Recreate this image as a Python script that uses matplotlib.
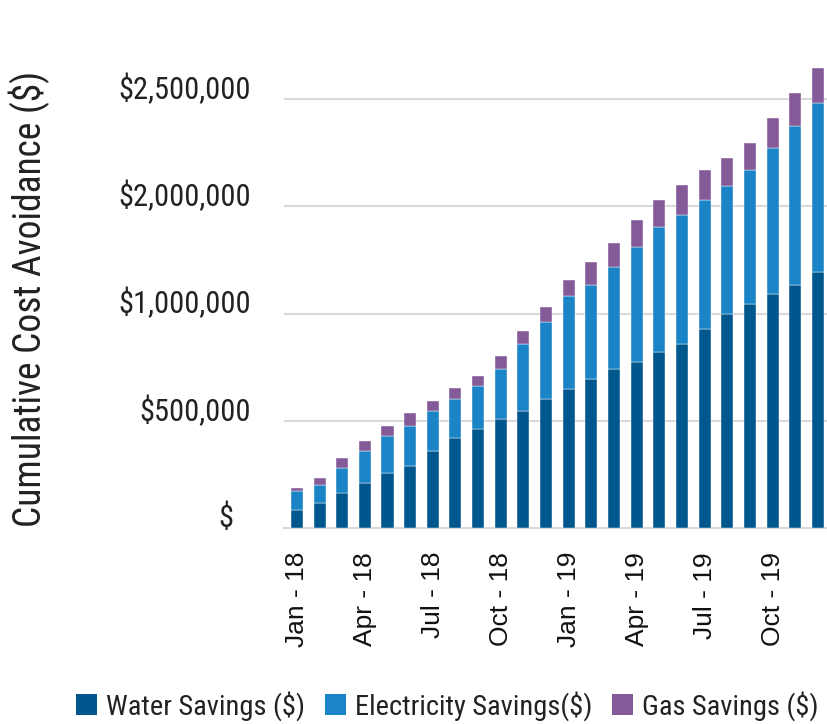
import numpy as np
import matplotlib
matplotlib.use("Agg")
import matplotlib.pyplot as plt
from matplotlib import font_manager
from matplotlib.transforms import ScaledTranslation
from matplotlib.patches import Patch

months = ["Jan - 18", "Feb - 18", "Mar - 18", "Apr - 18", "May - 18", "Jun - 18",
          "Jul - 18", "Aug - 18", "Sep - 18", "Oct - 18", "Nov - 18", "Dec - 18",
          "Jan - 19", "Feb - 19", "Mar - 19", "Apr - 19", "May - 19", "Jun - 19",
          "Jul - 19", "Aug - 19", "Sep - 19", "Oct - 19", "Nov - 19", "Dec - 19"]

water = [85000, 116000, 166000, 211000, 256000, 290000, 360000, 421000, 464000, 511000,
         547000, 604000, 651000, 694000, 744000, 776000, 823000, 859000, 929000, 998000,
         1045000, 1090000, 1135000, 1194000]
electricity = [90000, 84000, 113000, 149000, 175000, 186000, 186000, 183000, 199000, 233000,
               311000, 359000, 429000, 441000, 474000, 533000, 579000, 601000, 599000, 599000,
               624000, 682000, 741000, 786000]
gas = [11000, 34000, 48000, 48000, 47000, 59000, 47000, 48000, 45000, 57000,
       59000, 68000, 79000, 106000, 113000, 127000, 127000, 138000, 140000, 127000,
       126000, 138000, 151000, 163000]

y_ticks = [0, 500000, 1000000, 1500000, 2000000]
y_tick_labels = ["$", "$500,000", "$1,000,000", "$2,000,000", "$2,500,000"]
x_label_every = 3

series_names = ["Water Savings ($)", "Electricity Savings($)", "Gas Savings ($)"]
colors = ["#00578D", "#1B84C6", "#845A98"]

names = {f.name for f in font_manager.fontManager.ttflist}
cond = "Roboto"
for cand in ["Roboto Condensed", "Liberation Sans Narrow", "Roboto"]:
    if cand in names:
        cond = cand
        break
arial = "Liberation Sans" if "Liberation Sans" in names else "DejaVu Sans"

fig = plt.figure(figsize=(8.28, 7.24), dpi=100)
ax = fig.add_axes([284 / 828, 195.7 / 724, 1 - 284 / 828, 472.2 / 724])

x = np.arange(len(months))
w = np.array(water)
e = np.array(electricity)
g = np.array(gas)
bw = 0.53
ax.bar(x, w, bw, color=colors[0], edgecolor="white", linewidth=0.3, zorder=3)
ax.bar(x, e, bw, bottom=w, color=colors[1], edgecolor="white", linewidth=0.3, zorder=3)
ax.bar(x, g, bw, bottom=w + e, color=colors[2], edgecolor="white", linewidth=0.3, zorder=3)

ax.set_xlim(-0.57, 23.45)
ax.set_ylim(0, 2200000)

ax.set_yticks(y_ticks)
ax.set_yticklabels(y_tick_labels, fontfamily=cond, fontsize=22, color="#222222")
ax.tick_params(axis="y", length=0, pad=24)
for i, lab in enumerate(ax.get_yticklabels()):
    dx = -17 / 100 if i == 0 else 0
    lab.set_transform(lab.get_transform() + ScaledTranslation(dx, 13 / 100, fig.dpi_scale_trans))

ax.set_xticks(x[::x_label_every])
ax.set_xticklabels(months[::x_label_every], rotation=90, fontfamily=arial, fontsize=19,
                   color="#111111")
ax.tick_params(axis="x", length=0, pad=17)

ax.grid(axis="y", color="#D9D9D9", linewidth=1.5, zorder=0)
for s in ["top", "right", "left"]:
    ax.spines[s].set_visible(False)
ax.spines["bottom"].set_color("#D9D9D9")
ax.spines["bottom"].set_linewidth(1.5)

fig.text(29 / 828, 1 - 299 / 724, "Cumulative Cost Avoidance ($)", rotation=90,
         ha="center", va="center", fontfamily=cond, fontsize=27, color="#222222")

handles = [Patch(facecolor=c, edgecolor="none") for c in colors]
fig.legend(handles, series_names, loc="center", bbox_to_anchor=(0.540, 1 - 706 / 724),
           ncol=3, frameon=False, prop={"family": cond, "size": 20.5},
           handlelength=0.75, handleheight=0.75, handletextpad=0.3, columnspacing=0.7,
           labelcolor="#222222")

fig.savefig("out.png", dpi=100)
